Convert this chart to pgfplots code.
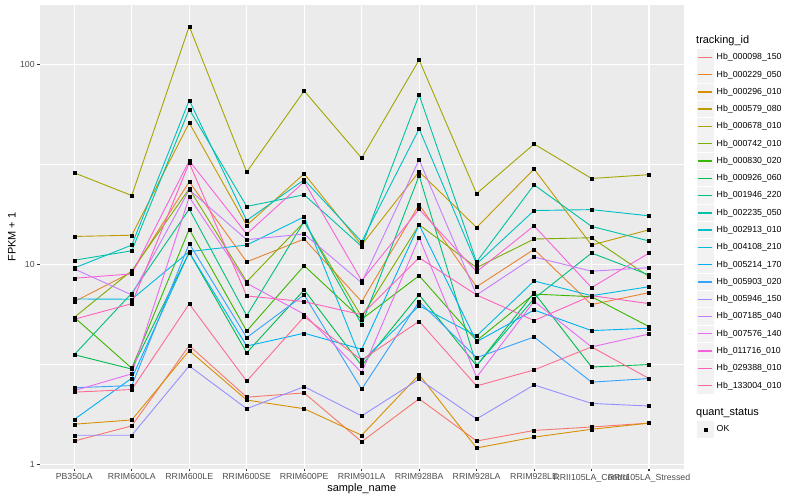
\documentclass[border=0pt]{standalone}
\usepackage{fontspec}
\setmainfont{Liberation Sans}
\usepackage{pgfplots}
\usepackage{pgfplotstable}
\pgfplotsset{compat=1.18}
\definecolor{c0}{HTML}{F8766D}
\definecolor{c1}{HTML}{EA8331}
\definecolor{c2}{HTML}{D89000}
\definecolor{c3}{HTML}{C09B00}
\definecolor{c4}{HTML}{A3A500}
\definecolor{c5}{HTML}{7CAE00}
\definecolor{c6}{HTML}{39B600}
\definecolor{c7}{HTML}{00BB4E}
\definecolor{c8}{HTML}{00BF7D}
\definecolor{c9}{HTML}{00C1A3}
\definecolor{c10}{HTML}{00BFC4}
\definecolor{c11}{HTML}{00BAE0}
\definecolor{c12}{HTML}{00B0F6}
\definecolor{c13}{HTML}{35A2FF}
\definecolor{c14}{HTML}{9590FF}
\definecolor{c15}{HTML}{C77CFF}
\definecolor{c16}{HTML}{E76BF3}
\definecolor{c17}{HTML}{FA62DB}
\definecolor{c18}{HTML}{FF62BC}
\definecolor{c19}{HTML}{FF6C91}
\definecolor{panelbg}{HTML}{EBEBEB}
\definecolor{keyfill}{HTML}{F2F2F2}
\definecolor{grey30}{HTML}{4D4D4D}
\definecolor{grey20}{HTML}{333333}
\pgfplotstableread{
x s0 s1 s2 s3 s4 s5 s6 s7 s8 s9 s10 s11 s12 s13 s14 s15 s16 s17 s18 s19
0 1.31 6.52 1.59 13.8 28.7 5.44 5.44 3.54 3.54 10.5 9.6 6.72 1.68 2.42 1.40 9.5 2.34 8.53 5.32 2.30
1 1.56 9.14 1.67 14.0 22.1 9.31 3.03 3.0 7.18 11.7 12.5 6.70 2.70 2.48 1.40 7.04 2.84 8.97 6.37 2.37
2 3.93 25.9 3.71 51.0 155 23.9 15.0 11.5 18.9 59.7 66.2 11.6 11.5 12.7 3.11 23.6 21.7 33.0 32.2 6.35
3 2.17 10.3 2.10 15.7 29.0 8.2 4.65 3.62 5.55 19.5 16.6 12.5 3.91 4.31 1.90 13.3 8.05 14.2 6.96 2.61
4 2.28 13.4 1.90 28.4 73.7 16.3 9.86 7.46 16.4 22.3 26.5 17.3 4.53 7.04 2.45 14.2 5.64 25.9 6.52 5.48
5 1.30 6.52 1.40 12.5 34.0 5.48 5.32 3.12 5.02 12.3 13.0 3.27 3.77 2.38 1.75 8.1 2.88 8.3 5.61 3.33
6 2.13 19.9 2.81 29.1 105.3 15.8 8.79 7.06 27.8 70.4 47.6 6.22 15.8 6.52 2.67 33.4 13.6 18.9 10.8 5.20
7 1.31 7.74 1.21 15.3 22.6 9.64 4.16 3.12 3.12 10.3 10.06 4.39 4.11 3.42 1.69 7.04 2.73 9.2 7.04 2.47
8 1.48 11.9 1.37 30.0 40.0 13.4 7.11 7.23 6.75 25.0 18.6 8.27 5.92 4.34 2.50 10.9 6.55 15.6 5.24 2.97
9 1.54 6.30 1.50 12.5 26.9 13.6 6.9 3.07 11.4 15.5 18.8 6.98 4.67 2.58 2.02 9.25 3.87 7.66 6.98 3.87
10 1.61 7.23 1.61 14.9 28.1 8.69 4.89 3.16 8.86 13.1 17.5 7.74 4.80 2.69 1.96 9.64 4.49 11.4 6.37 2.69
}\data
\pgfplotsset{
  keylegend/.style={
    legend cell align=left,
    legend style={anchor=north west,
      inner sep=0pt, outer sep=0pt, draw=none, fill=none,
      font=\fontsize{8.8}{10}\selectfont,
      nodes={inner sep=0pt, minimum height=17.28bp, draw=none, fill=none}},
  },
}
\begin{document}
\begin{tikzpicture}
\path[use as bounding box] (0,0) rectangle (800bp,500bp);
\begin{axis}[
  at={(39.8bp,31.3bp)}, anchor=south west,
  scale only axis, width=643.7bp, height=463.5bp,
  ymode=log,
  xmin=-0.6, xmax=10.6, ymin=0.9528, ymax=197.7,
  enlargelimits=false,
  axis background/.style={fill=panelbg},
  axis line style={draw=none},
  xtick={0,...,10},
  xticklabels={PB350LA,RRIM600LA,RRIM600LE,RRIM600SE,RRIM600PE,RRIM901LA,RRIM928BA,RRIM928LA,RRIM928LE,RRII105LA\_Control,RRII105LA\_Stressed},
  ytick={1,10,100}, yticklabels={1,10,100},
  minor ytick={3.1623,31.623},
  minor tick length=0pt,
  xmajorgrids, ymajorgrids, yminorgrids,
  major grid style={white, line width=1.07bp},
  minor grid style={white, line width=0.53bp},
  tick align=outside, tick pos=left,
  major tick length=2.75bp,
  major tick style={grey20, line width=1.07bp},
  ticklabel style={font=\fontsize{8.8}{10}\selectfont, text=grey30, inner sep=0pt},
  yticklabel style={xshift=-2.2bp},
  xticklabel style={yshift=-2.2bp},
  keylegend,
  legend style={at={(axis description cs:1.02051,0.90623)}},
  legend image code/.code={
    \path[draw=none, fill=keyfill] (0.4bp,-8.24bp) rectangle (16.88bp,8.24bp);
    \draw[#1, fill=none, line width=1.4bp] (1.7bp,0bp) -- (15.6bp,0bp);
    \path[draw=none, fill=none] (0bp,-8.64bp) rectangle (19.98bp,8.64bp);
  },
]
\addplot[c0, line width=0.9bp, no marks] table[x=x,y=s0]{\data};
\addlegendentry{Hb\_000098\_150}
\addplot[c1, line width=0.9bp, no marks] table[x=x,y=s1]{\data};
\addlegendentry{Hb\_000229\_050}
\addplot[c2, line width=0.9bp, no marks] table[x=x,y=s2]{\data};
\addlegendentry{Hb\_000296\_010}
\addplot[c3, line width=0.9bp, no marks] table[x=x,y=s3]{\data};
\addlegendentry{Hb\_000579\_080}
\addplot[c4, line width=0.9bp, no marks] table[x=x,y=s4]{\data};
\addlegendentry{Hb\_000678\_010}
\addplot[c5, line width=0.9bp, no marks] table[x=x,y=s5]{\data};
\addlegendentry{Hb\_000742\_010}
\addplot[c6, line width=0.9bp, no marks] table[x=x,y=s6]{\data};
\addlegendentry{Hb\_000830\_020}
\addplot[c7, line width=0.9bp, no marks] table[x=x,y=s7]{\data};
\addlegendentry{Hb\_000926\_060}
\addplot[c8, line width=0.9bp, no marks] table[x=x,y=s8]{\data};
\addlegendentry{Hb\_001946\_220}
\addplot[c9, line width=0.9bp, no marks] table[x=x,y=s9]{\data};
\addlegendentry{Hb\_002235\_050}
\addplot[c10, line width=0.9bp, no marks] table[x=x,y=s10]{\data};
\addlegendentry{Hb\_002913\_010}
\addplot[c11, line width=0.9bp, no marks] table[x=x,y=s11]{\data};
\addlegendentry{Hb\_004108\_210}
\addplot[c12, line width=0.9bp, no marks] table[x=x,y=s12]{\data};
\addlegendentry{Hb\_005214\_170}
\addplot[c13, line width=0.9bp, no marks] table[x=x,y=s13]{\data};
\addlegendentry{Hb\_005903\_020}
\addplot[c14, line width=0.9bp, no marks] table[x=x,y=s14]{\data};
\addlegendentry{Hb\_005946\_150}
\addplot[c15, line width=0.9bp, no marks] table[x=x,y=s15]{\data};
\addlegendentry{Hb\_007185\_040}
\addplot[c16, line width=0.9bp, no marks] table[x=x,y=s16]{\data};
\addlegendentry{Hb\_007576\_140}
\addplot[c17, line width=0.9bp, no marks] table[x=x,y=s17]{\data};
\addlegendentry{Hb\_011716\_010}
\addplot[c18, line width=0.9bp, no marks] table[x=x,y=s18]{\data};
\addlegendentry{Hb\_029388\_010}
\addplot[c19, line width=0.9bp, no marks] table[x=x,y=s19]{\data};
\addlegendentry{Hb\_133004\_010}
\pgfplotsinvokeforeach{0,...,19}{
  \addplot[only marks, mark=square*, mark size=1.5bp, black, forget plot] table[x=x,y=s#1]{\data};
}
\end{axis}
\begin{axis}[
  at={(39.8bp,31.3bp)}, anchor=south west,
  scale only axis, width=643.7bp, height=463.5bp,
  hide axis, xmin=0, xmax=1, ymin=0, ymax=1,
  keylegend,
  legend style={at={(axis description cs:1.02051,0.10365)}},
]
\addlegendimage{legend image code/.code={
    \path[draw=none, fill=keyfill] (0.4bp,-8.24bp) rectangle (16.88bp,8.24bp);
    \draw[black, fill=black, mark=square*, mark size=1.5bp] plot coordinates {(8.64bp,0bp)};
    \path[draw=none, fill=none] (0bp,-8.64bp) rectangle (19.98bp,8.64bp);
  }}
\addlegendentry{OK}
\end{axis}
\node[anchor=base west, font=\fontsize{11}{13}\selectfont, inner sep=0pt] at (696bp,456bp) {tracking\_id};
\node[anchor=base west, font=\fontsize{11}{13}\selectfont, inner sep=0pt] at (696bp,84.3bp) {quant\_status};
\node[anchor=base, font=\fontsize{11}{13}\selectfont, inner sep=0pt] at (361.7bp,9bp) {sample\_name};
\node[anchor=base, rotate=90, font=\fontsize{11}{13}\selectfont, inner sep=0pt] at (15.5bp,263bp) {FPKM + 1};
\end{tikzpicture}
\end{document}
